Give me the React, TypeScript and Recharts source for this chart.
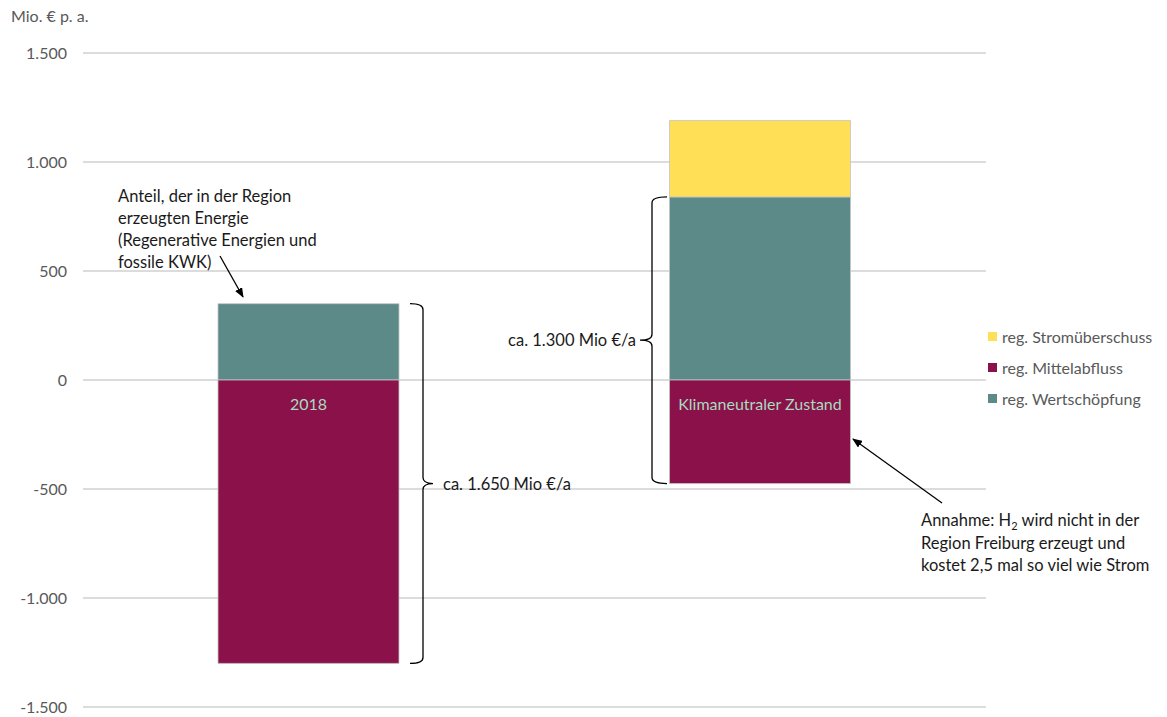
import { Bar, BarChart, CartesianGrid, LabelList, XAxis, YAxis } from 'recharts';

const categories = ['2018', 'Klimaneutraler Zustand'];
const wertschoepfung = [350, 840];
const mittelabfluss = [-1300, -475];
const stromueberschuss = [0, 350];
const yTicks = [-1500, -1000, -500, 0, 500, 1000, 1500];

const WIDTH = 1167;
const HEIGHT = 717;
const MARGIN = { top: 53, right: 181, bottom: 10, left: 0 };
const Y_MIN = -1500;
const Y_MAX = 1500;

const FONT = 'Lato, "Open Sans", sans-serif';
const TEAL = '#5C8A88';
const MAROON = '#8A1149';
const YELLOW = '#FFDF55';

const numberFormatter = new Intl.NumberFormat('de-DE');

const chartData = categories.map((name, i) => ({
  name,
  wertschoepfung: wertschoepfung[i],
  mittelabfluss: mittelabfluss[i],
  stromueberschuss: stromueberschuss[i],
}));

const legendItems = [
  { label: 'reg. Stromüberschuss', color: YELLOW },
  { label: 'reg. Mittelabfluss', color: MAROON },
  { label: 'reg. Wertschöpfung', color: TEAL },
];

// same linear mapping as the y axis, used for the annotation overlay
function yPx(v: number) {
  const h = HEIGHT - MARGIN.top - MARGIN.bottom;
  return MARGIN.top + ((Y_MAX - v) / (Y_MAX - Y_MIN)) * h;
}

function bracketPath(x0: number, x1: number, xTip: number, yTop: number, yBot: number) {
  const yMid = (yTop + yBot) / 2;
  const r = 6;
  return [
    `M ${x0} ${yTop}`,
    `Q ${x1} ${yTop} ${x1} ${yTop + r}`,
    `L ${x1} ${yMid - r}`,
    `Q ${x1} ${yMid} ${xTip} ${yMid}`,
    `Q ${x1} ${yMid} ${x1} ${yMid + r}`,
    `L ${x1} ${yBot - r}`,
    `Q ${x1} ${yBot} ${x0} ${yBot}`,
  ].join(' ');
}

// label drawn just below the zero line inside the negative bar
function TopLabel(props: any) {
  const { x, y, width, height, value } = props;
  const top = Math.min(Number(y), Number(y) + Number(height));
  return (
    <text
      x={Number(x) + Number(width) / 2}
      y={top + 30}
      textAnchor="middle"
      style={{ fill: '#A6DCBF', fontSize: 16, fontFamily: FONT }}
    >
      {value}
    </text>
  );
}

function ChartLegend() {
  return (
    <div
      style={{
        position: 'absolute',
        left: 988,
        top: 321,
        fontFamily: FONT,
        fontSize: 16,
        color: '#595959',
      }}
    >
      {legendItems.map((item) => (
        <div key={item.label} style={{ display: 'flex', alignItems: 'center', height: 31 }}>
          <span
            style={{
              display: 'inline-block',
              width: 9,
              height: 9,
              background: item.color,
              marginRight: 5,
            }}
          />
          {item.label}
        </div>
      ))}
    </div>
  );
}

function Annotations() {
  const top1 = yPx(wertschoepfung[0]);
  const bot1 = yPx(mittelabfluss[0]);
  const top2 = yPx(wertschoepfung[1]);
  const bot2 = yPx(mittelabfluss[1]);
  const mid1 = (top1 + bot1) / 2;
  const mid2 = (top2 + bot2) / 2;
  const textStyle = { fontFamily: FONT, fontSize: 16.5, fill: '#1a1a1a' };

  return (
    <svg
      width={WIDTH}
      height={HEIGHT}
      style={{ position: 'absolute', left: 0, top: 0, pointerEvents: 'none' }}
    >
      <defs>
        <marker id="arrow" markerWidth="10" markerHeight="8" refX="9" refY="4" orient="auto" markerUnits="userSpaceOnUse">
          <path d="M0,0 L10,4 L0,8 Z" fill="#000" />
        </marker>
      </defs>

      <text x={11} y={22} style={{ ...textStyle, fontSize: 16, fill: '#595959' }}>
        Mio. € p. a.
      </text>

      <text style={textStyle}>
        <tspan x={118} y={202}>Anteil, der in der Region</tspan>
        <tspan x={118} y={224}>erzeugten Energie</tspan>
        <tspan x={118} y={246}>(Regenerative Energien und</tspan>
        <tspan x={118} y={268}>fossile KWK)</tspan>
      </text>
      <line x1={220} y1={256} x2={243} y2={297} stroke="#000" strokeWidth={1.3} markerEnd="url(#arrow)" />

      <path d={bracketPath(410, 423, 433, top1, bot1)} fill="none" stroke="#000" strokeWidth={1.3} />
      <text x={443} y={mid1 + 6} style={textStyle}>
        ca. 1.650 Mio €/a
      </text>

      <path d={bracketPath(667, 652, 640, top2, bot2)} fill="none" stroke="#000" strokeWidth={1.3} />
      <text x={636} y={mid2 + 6} textAnchor="end" style={textStyle}>
        ca. 1.300 Mio €/a
      </text>

      <line x1={942} y1={503} x2={853} y2={439} stroke="#000" strokeWidth={1.3} markerEnd="url(#arrow)" />
      <text style={textStyle}>
        <tspan x={921} y={526}>Annahme: H</tspan>
        <tspan fontSize={11} dy={4}>2</tspan>
        <tspan dy={-4}> wird nicht in der</tspan>
        <tspan x={921} y={549}>Region Freiburg erzeugt und</tspan>
        <tspan x={921} y={571}>kostet 2,5 mal so viel wie Strom</tspan>
      </text>
    </svg>
  );
}

export default function App() {
  return (
    <div style={{ position: 'absolute', left: 0, top: 0, width: WIDTH, height: HEIGHT, background: '#fff' }}>
      <BarChart
        width={WIDTH}
        height={HEIGHT}
        data={chartData}
        margin={MARGIN}
        stackOffset="sign"
        barSize={181}
      >
        <CartesianGrid stroke="#d0d0d0" strokeWidth={1.5} vertical={false} />
        <XAxis dataKey="name" hide />
        <YAxis
          domain={[Y_MIN, Y_MAX]}
          ticks={yTicks}
          width={83}
          axisLine={false}
          tickLine={false}
          tickMargin={10}
          interval={0}
          tick={{ fill: '#595959', fontSize: 16, fontFamily: FONT }}
          tickFormatter={(v) => numberFormatter.format(Number(v))}
        />
        <Bar
          dataKey="wertschoepfung"
          name="reg. Wertschöpfung"
          stackId="a"
          fill={TEAL}
          stroke="#c4c4c4"
          strokeWidth={0.8}
          isAnimationActive={false}
        />
        <Bar
          dataKey="mittelabfluss"
          name="reg. Mittelabfluss"
          stackId="a"
          fill={MAROON}
          stroke="#c4c4c4"
          strokeWidth={0.8}
          isAnimationActive={false}
        >
          <LabelList dataKey="name" content={<TopLabel />} />
        </Bar>
        <Bar
          dataKey="stromueberschuss"
          name="reg. Stromüberschuss"
          stackId="a"
          fill={YELLOW}
          stroke="#c4c4c4"
          strokeWidth={0.8}
          isAnimationActive={false}
        />
      </BarChart>
      <ChartLegend />
      <Annotations />
    </div>
  );
}
